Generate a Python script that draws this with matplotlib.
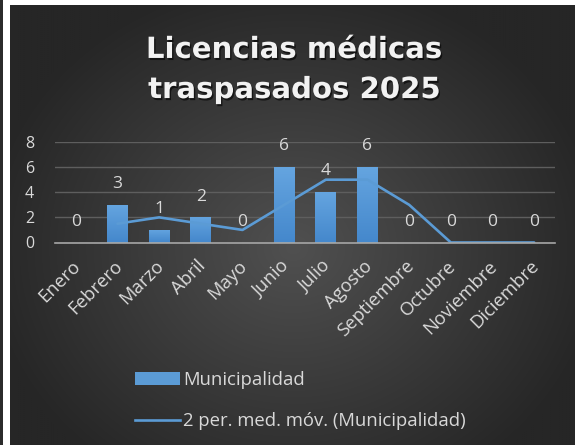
import numpy as np
import matplotlib
matplotlib.use("Agg")
import matplotlib.pyplot as plt
import matplotlib.patheffects as pe
import matplotlib.transforms as mtransforms
from matplotlib.patches import Rectangle
from matplotlib.lines import Line2D

months = ["Enero", "Febrero", "Marzo", "Abril", "Mayo", "Junio", "Julio",
          "Agosto", "Septiembre", "Octubre", "Noviembre", "Diciembre"]
municipalidad = [0, 3, 1, 2, 0, 6, 4, 6, 0, 0, 0, 0]
media_movil = [np.nan, 1.5, 2, 1.5, 1, 3, 5, 5, 3, 0, 0, 0]
yticks = [0, 2, 4, 6, 8]
title = "Licencias médicas\ntraspasados 2025"
legend_labels = ["Municipalidad", "2 per. med. móv. (Municipalidad)"]

W, H = 575, 445
fig = plt.figure(figsize=(W / 100, H / 100), dpi=100, facecolor="white")

def fx(px):
    return px / W

def fy(py):
    return 1 - py / H

# dark strip at far left
fig.patches.append(Rectangle((0, 0), fx(3), 1, transform=fig.transFigure,
                             facecolor="#2b2b2b", edgecolor="none", zorder=0))

# gradient background for chart area
bx0, by0 = 10, 5
bg = fig.add_axes([fx(bx0), 0, fx(W - bx0), 1 - by0 / H], zorder=-1)
ny, nx = 220, 280
yy, xx = np.mgrid[0:ny, 0:nx]
cx, cy = nx * 0.5, ny * 0.55
r = np.sqrt(((xx - cx) / (nx * 0.55)) ** 2 + ((yy - cy) / (ny * 0.62)) ** 2)
r = np.clip(r, 0, 1)
c_in, c_out = 0x50 / 255, 0x26 / 255
val = c_in + (c_out - c_in) * r
img = np.dstack([val, val, val])
bg.imshow(img, aspect="auto", extent=[0, 1, 0, 1], interpolation="bilinear")
bg.set_axis_off()

# main axes
ax_left, ax_right = 55, 555
ax_top, ax_bot = 142, 242.5
ax = fig.add_axes([fx(ax_left), fy(ax_bot), fx(ax_right - ax_left),
                   (ax_bot - ax_top) / H])
ax.set_facecolor("none")
x = np.arange(len(months))
bar_color = "#5b9bd5"
bars = ax.bar(x, municipalidad, width=0.5, color=bar_color, zorder=3)

# subtle vertical gradient inside each bar
grad = np.linspace(0, 1, 64).reshape(-1, 1)
top_c = np.array([0x65, 0xa5, 0xe0]) / 255
bot_c = np.array([0x45, 0x88, 0xcc]) / 255
grad_img = top_c * (1 - grad[..., None]) + bot_c * grad[..., None]
grad_img = np.repeat(grad_img, 2, axis=1)
for b in bars:
    h = b.get_height()
    if h <= 0:
        continue
    x0 = b.get_x()
    im = ax.imshow(grad_img, extent=[x0, x0 + b.get_width(), 0, h],
                   aspect="auto", origin="upper", zorder=3.5,
                   interpolation="bilinear")
    im.set_clip_path(b)

ax.plot(x, media_movil, color="#5b9bd5", lw=1.9, zorder=4,
        solid_capstyle="round")

ax.set_xlim(-0.5, len(months) - 0.5)
ax.set_ylim(0, 8)
ax.set_yticks(yticks)
ax.grid(axis="y", color="#5e5e5e", lw=1, zorder=0)
for s in ["top", "right", "left"]:
    ax.spines[s].set_visible(False)
ax.spines["bottom"].set_color("#a6a6a6")
ax.spines["bottom"].set_linewidth(1.2)
ax.spines["bottom"].set_zorder(5)

lab_font = "Open Sans"
txt_color = "#d9d9d9"
ax.tick_params(axis="y", length=0, pad=15, labelsize=11.5, labelcolor=txt_color)
ax.tick_params(axis="x", length=0, pad=15, labelsize=13.3, labelcolor=txt_color)
ax.set_xticks(x)
ax.set_xticklabels(months, rotation=45, ha="right", va="center",
                   rotation_mode="anchor", family=lab_font)
shift = mtransforms.ScaledTranslation(2 / 100, 0, fig.dpi_scale_trans)
for t in ax.get_xticklabels():
    t.set_transform(t.get_transform() + shift)
for t in ax.get_yticklabels():
    t.set_family(lab_font)

for xi, v in zip(x, municipalidad):
    ax.annotate(str(v), (xi, v), xytext=(0, 15), textcoords="offset points",
                ha="center", va="center", fontsize=12.5, color=txt_color,
                family=lab_font, zorder=6)

# title
fig.text(fx(294), fy(70), title, ha="center", va="center", fontsize=21,
         fontweight="bold", color="#f2f2f2", family="DejaVu Sans",
         linespacing=1.55,
         path_effects=[pe.SimplePatchShadow(offset=(1, -1.5), shadow_rgbFace="black",
                                            alpha=0.6), pe.Normal()])

# legend
handles = [Rectangle((0, 0), 1, 1, facecolor=bar_color, edgecolor="none"),
           Line2D([0], [0], color="#5b9bd5", lw=1.9)]
leg = fig.legend(handles, legend_labels, loc="upper left",
                 bbox_to_anchor=(fx(135), fy(371)), frameon=False,
                 prop={"family": lab_font, "size": 13.3}, labelcolor=txt_color,
                 handlelength=2.45, handleheight=0.7, handletextpad=0.15,
                 labelspacing=1.25, borderpad=0, borderaxespad=0)

fig.savefig("out.png", dpi=100, facecolor=fig.get_facecolor())
